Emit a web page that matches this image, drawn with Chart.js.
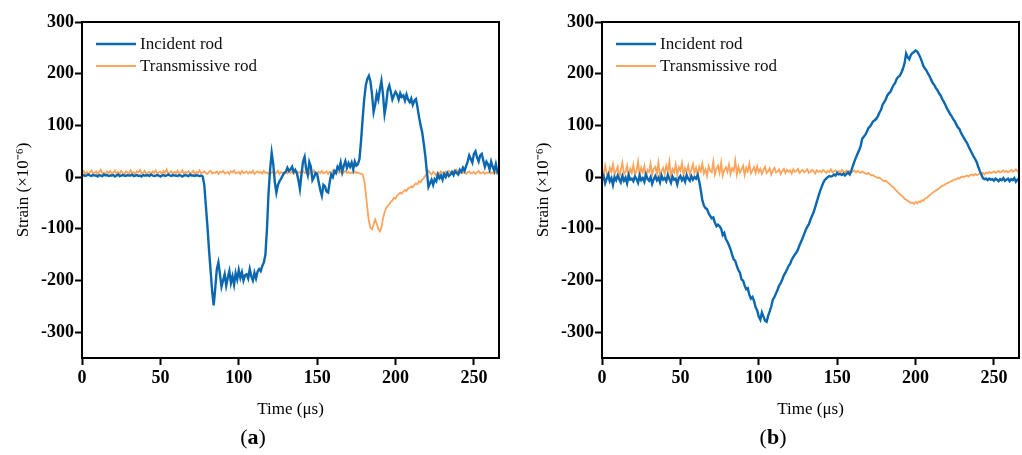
<!DOCTYPE html>
<html>
<head>
<meta charset="utf-8">
<script src="https://cdn.jsdelivr.net/npm/chart.js@4"></script>
<style>
  html, body { margin: 0; padding: 0; background: #ffffff; }
  body { width: 1022px; height: 455px; position: relative; overflow: hidden; font-family: 'Liberation Serif', 'Times New Roman', serif; }
  .panel { position: absolute; top: 0; }
  .plabel { position: absolute; top: 424px; font-size: 22px; color: #000; white-space: nowrap; transform: translateX(-50%); }
</style>
</head>
<body>
<div class="panel" style="left:0px"><canvas id="chartA" width="511" height="455"></canvas></div>
<div class="panel" style="left:520px"><canvas id="chartB" width="502" height="455"></canvas></div>
<div class="plabel" style="left:253px">(<b>a</b>)</div>
<div class="plabel" style="left:773px">(<b>b</b>)</div>
<script>
// ---- Data (strain in 1e-6, sampled every 1 µs from 0 to 266 µs) ----
const timeUs = Array.from({ length: 267 }, (_, i) => i);
const seriesLabels = ['Incident rod', 'Transmissive rod'];
const xTickValues = [0, 50, 100, 150, 200, 250];
const yTickValues = [-300, -200, -100, 0, 100, 200, 300];

// Panel (a)
const incidentA = [
  3,4,2,3,5,3,2,4,3,3,
  1,4,3,2,5,3,4,2,3,3,
  4,1,3,5,2,3,4,3,2,4,
  3,3,5,2,3,4,2,3,1,4,
  3,3,4,2,5,3,2,3,4,3,
  1,3,4,2,3,5,3,2,4,3,
  3,2,4,3,1,3,4,3,2,5,
  3,3,2,4,3,2,3,1,-15,-55,
  -95,-140,-180,-220,-248,-215,-178,-165,-188,-212,
  -200,-188,-210,-195,-182,-205,-192,-208,-186,-198,
  -180,-195,-184,-200,-190,-188,-196,-178,-192,-200,
  -185,-196,-183,-178,-182,-172,-165,-150,-100,-30,
  15,47,25,-10,-30,-15,-8,-3,3,8,
  10,18,12,15,20,10,14,8,-5,-23,
  5,30,39,15,4,29,20,-6,0,8,
  6,-10,-25,-36,-15,-18,-28,-30,-10,5,
  0,12,8,20,15,28,10,22,31,18,
  27,20,28,15,30,22,25,35,70,112,
  150,177,190,196,185,160,126,140,161,150,
  170,186,160,122,140,168,177,165,150,158,
  165,160,150,162,155,158,148,160,150,145,
  152,140,148,151,135,116,100,87,65,41,
  10,-19,-12,-5,-15,-4,-8,5,-2,3,
  -5,6,0,8,2,5,10,4,12,8,
  5,14,10,18,12,21,30,42,35,28,
  45,50,38,30,42,45,32,20,30,25,
  15,30,20,12,25,10,15
];
const transmissiveA = [
  8,12,6,10,5,9,13,7,8,11,
  6,10,14,7,9,5,11,8,12,6,
  9,13,7,10,6,12,8,5,11,9,
  7,13,8,10,6,11,9,14,7,8,
  12,6,9,10,5,11,8,13,7,9,
  10,6,12,8,15,7,9,11,6,10,
  8,12,7,9,13,6,10,8,11,7,
  9,12,6,10,8,13,7,9,11,8,
  6,10,12,7,9,8,11,6,10,9,
  12,7,8,10,6,11,9,13,7,8,
  10,6,12,8,9,11,7,10,8,12,
  6,9,11,8,10,7,12,8,9,6,
  10,8,11,7,9,12,6,10,8,9,
  11,7,10,8,12,6,9,11,8,10,
  7,12,8,9,10,6,11,8,13,7,
  9,10,8,12,7,9,11,6,10,8,
  12,7,9,10,8,11,6,9,12,8,
  10,7,9,8,11,8,9,7,6,5,
  -5,-30,-60,-85,-98,-101,-92,-82,-90,-100,
  -105,-98,-80,-68,-60,-56,-52,-48,-45,-40,
  -42,-36,-33,-30,-32,-28,-25,-27,-22,-20,
  -18,-20,-15,-12,-14,-8,-10,-5,-2,3,
  6,12,8,5,10,7,3,9,6,11,
  8,4,10,7,12,9,6,11,8,14,
  9,7,12,8,10,6,9,11,7,8,
  10,6,9,12,7,8,10,6,9,8,
  11,7,9,6,10,8,7
];

// Panel (b)
const incidentB = [
  -5,2,-12,-3,5,-8,-2,-15,0,-6,
  3,-4,-10,2,-7,-1,-12,4,-5,-3,
  -8,1,-4,-11,3,-6,-2,-9,5,-3,
  -7,0,-13,-4,2,-6,-1,-10,3,-5,
  -2,-8,4,-4,-11,1,-5,-3,-14,-2,
  2,-6,-1,-9,4,-3,-7,2,-5,0,
  -3,4,-8,-25,-45,-55,-60,-62,-70,-75,
  -80,-78,-88,-95,-92,-95,-100,-112,-108,-120,
  -125,-132,-140,-150,-159,-162,-172,-180,-185,-198,
  -200,-210,-217,-215,-228,-235,-232,-240,-252,-258,
  -270,-276,-262,-270,-278,-280,-268,-260,-250,-237,
  -232,-225,-218,-210,-205,-198,-190,-185,-179,-172,
  -168,-160,-155,-150,-146,-140,-132,-125,-118,-110,
  -102,-96,-91,-82,-75,-68,-58,-48,-38,-28,
  -20,-12,-6,-3,0,2,1,2,5,3,
  8,5,6,4,7,3,6,9,5,12,
  21,30,38,45,52,60,74,78,82,88,
  95,98,103,108,110,113,118,125,130,140,
  145,150,158,162,165,172,178,182,190,194,
  196,202,210,220,239,232,228,236,240,242,
  245,243,238,232,224,215,210,206,200,195,
  188,182,178,172,168,162,158,151,146,140,
  133,128,122,118,112,108,102,96,93,86,
  80,75,70,65,58,52,46,40,35,29,
  20,12,5,-2,-4,-3,-6,-3,-5,-4,
  -7,-3,-5,-8,-4,-6,-2,-7,-5,-3,
  -8,-4,-6,-2,-9,-5,-3
];
const transmissiveB = [
  15,3,22,8,-2,18,10,25,5,12,
  20,-3,14,28,6,10,22,0,16,8,
  24,5,12,30,2,18,9,21,-1,14,
  10,26,4,16,20,7,28,3,12,18,
  6,22,11,30,0,15,9,24,5,19,
  12,27,3,17,10,22,6,14,25,8,
  18,4,20,11,26,7,15,2,21,12,
  9,30,5,16,22,8,28,3,14,19,
  10,24,6,17,12,32,5,20,9,15,
  22,4,18,11,26,7,13,19,8,21,
  10,16,6,14,20,8,12,17,5,13,
  18,9,11,15,6,12,16,8,14,10,
  13,7,15,10,12,16,8,11,14,9,
  12,15,8,10,14,11,7,13,10,12,
  9,14,11,8,12,10,15,9,11,13,
  10,12,8,14,11,9,13,10,12,8,
  11,13,9,12,10,8,11,9,7,6,
  8,5,3,4,1,0,-2,-1,-4,-6,
  -8,-7,-10,-12,-15,-18,-20,-24,-27,-30,
  -33,-36,-38,-42,-44,-46,-48,-50,-49,-52,
  -48,-51,-47,-49,-45,-46,-42,-40,-38,-35,
  -33,-30,-28,-26,-24,-22,-19,-17,-16,-14,
  -12,-11,-9,-8,-6,-5,-4,-2,-3,0,
  1,0,2,3,1,4,5,3,6,4,
  5,7,6,8,5,9,7,10,8,9,
  11,8,10,12,9,11,13,10,12,9,
  11,14,10,12,15,11,13
];

// ---- Styling ----
const BLUE = '#0b68b0';
const ORANGE = '#fca45c';
const SERIF = "'Liberation Serif', 'Times New Roman', serif";

function toPoints(vals) { return vals.map((v, i) => ({ x: timeUs[i], y: v })); }

const frameAndLegend = {
  id: 'frameAndLegend',
  afterDraw(chart) {
    const { ctx, chartArea: a } = chart;
    ctx.save();
    ctx.strokeStyle = '#000';
    ctx.lineWidth = 2;
    ctx.strokeRect(a.left, a.top, a.right - a.left, a.bottom - a.top);
    // legend
    const items = chart.data.datasets;
    const rows = [44, 66];
    items.forEach((ds, k) => {
      const y = rows[k];
      ctx.beginPath();
      ctx.strokeStyle = ds.borderColor;
      ctx.lineWidth = ds.borderWidth;
      ctx.moveTo(a.left + 14, y);
      ctx.lineTo(a.left + 54, y);
      ctx.stroke();
      ctx.fillStyle = '#111';
      ctx.font = '17px ' + SERIF;
      ctx.textBaseline = 'middle';
      ctx.textAlign = 'left';
      ctx.fillText(ds.label, a.left + 58, y + 1);
    });
    ctx.restore();
  }
};

function makeChart(id, inc, tra, rightPad) {
  return new Chart(document.getElementById(id), {
    type: 'line',
    data: {
      datasets: [
        { label: seriesLabels[0], data: toPoints(inc), borderColor: BLUE, borderWidth: 2.4, pointRadius: 0, tension: 0 },
        { label: seriesLabels[1], data: toPoints(tra), borderColor: ORANGE, borderWidth: 1.8, pointRadius: 0, tension: 0 }
      ]
    },
    options: {
      responsive: false,
      animation: false,
      devicePixelRatio: 1,
      layout: { padding: { top: 22, right: rightPad, left: 0, bottom: 0 } },
      plugins: { legend: { display: false }, tooltip: { enabled: false } },
      scales: {
        x: {
          type: 'linear', min: 0, max: 266,
          afterBuildTicks: s => { s.ticks = xTickValues.map(v => ({ value: v })); },
          afterFit: s => { s.height = 97; s.paddingLeft = 0; s.paddingRight = 0; },
          grid: { drawOnChartArea: false, drawTicks: true, tickLength: 7, tickWidth: 2, tickColor: '#000' },
          border: { display: true, color: '#000', width: 2 },
          ticks: { color: '#000', font: { family: SERIF, size: 18, weight: 'bold' }, padding: 3, maxRotation: 0 },
          title: { display: true, text: 'Time (μs)', color: '#000', font: { family: SERIF, size: 17 }, padding: { top: 0, bottom: 35 } }
        },
        y: {
          type: 'linear', min: -350, max: 300,
          afterBuildTicks: s => { s.ticks = yTickValues.map(v => ({ value: v })); },
          afterFit: s => { s.width = 82; s.paddingTop = 0; s.paddingBottom = 0; },
          grid: { drawOnChartArea: false, drawTicks: true, tickLength: 7, tickWidth: 2, tickColor: '#000' },
          border: { display: true, color: '#000', width: 2 },
          ticks: { color: '#000', font: { family: SERIF, size: 18, weight: 'bold' }, padding: 1 },
          title: { display: true, text: 'Strain (×10⁻⁶)', color: '#000', font: { family: SERIF, size: 17 }, padding: { top: 13, bottom: 0 } }
        }
      }
    },
    plugins: [frameAndLegend]
  });
}

makeChart('chartA', incidentA, transmissiveA, 12);
makeChart('chartB', incidentB, transmissiveB, 3);
</script>
</body>
</html>
